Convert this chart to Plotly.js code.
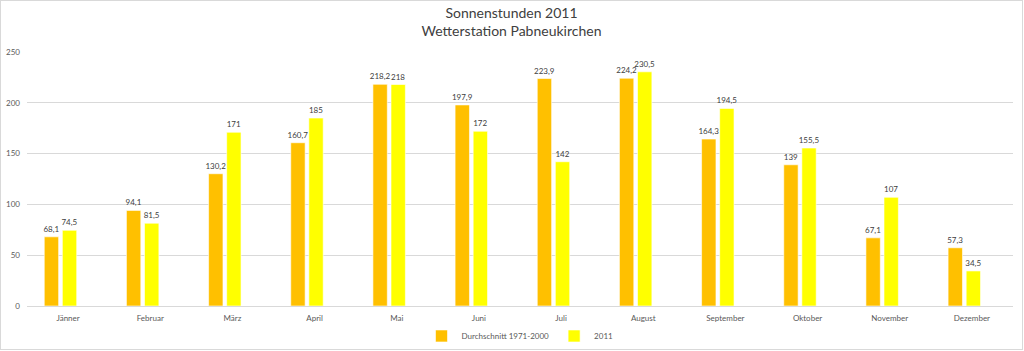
<!DOCTYPE html>
<html>
<head>
<meta charset="utf-8">
<script src="https://cdn.plot.ly/plotly-3.0.1.min.js"></script>
<style>
html,body{margin:0;padding:0;background:#fff;}
#chart{width:1021px;height:348px;border:1px solid #d9d9d9;}
</style>
</head>
<body>
<div id="chart"></div>
<script>
const months = ["Jänner","Februar","März","April","Mai","Juni","Juli","August","September","Oktober","November","Dezember"];
const durchschnitt = [68.1,94.1,130.2,160.7,218.2,197.9,223.9,224.2,164.3,139,67.1,57.3];
const jahr2011 = [74.5,81.5,171,185,218,172,142,230.5,194.5,155.5,107,34.5];
const seriesNames = ["Durchschnitt 1971-2000","2011"];
const yTicks = [0,50,100,150,200,250];

const fmt = v => String(v).replace('.', ',');
const font = "Lato, 'Open Sans', 'DejaVu Sans', sans-serif";

const traces = [
  {type:'bar', x:months, y:durchschnitt, name:seriesNames[0],
   marker:{color:'#FFC000', line:{color:'#ffffff', width:0.6}},
   width:0.175, offset:-0.29,
   text:durchschnitt.map(fmt), textposition:'outside', cliponaxis:false, constraintext:'none',
   textfont:{size:8, color:'#404040', family:font}, hoverinfo:'x+y'},
  {type:'bar', x:months, y:jahr2011, name:seriesNames[1],
   marker:{color:'#FFFF00', line:{color:'#ffffff', width:0.6}},
   width:0.175, offset:-0.07,
   text:jahr2011.map(fmt), textposition:'outside', cliponaxis:false, constraintext:'none',
   textfont:{size:8, color:'#404040', family:font}, hoverinfo:'x+y'}
];

const layout = {
  width:1021, height:348,
  margin:{l:26, r:9, t:51, b:43, autoexpand:false},
  paper_bgcolor:'#ffffff', plot_bgcolor:'#ffffff',
  font:{family:font, color:'#595959', size:8},
  title:{text:'Sonnenstunden 2011<br>Wetterstation Pabneukirchen', x:0.5, xanchor:'center', y:0.951, yanchor:'top',
         font:{size:14, color:'#404040', family:font}},
  barmode:'overlay',
  uniformtext:{minsize:8, mode:'show'},
  xaxis:{type:'category', showgrid:false, zeroline:false, showline:false, ticks:'', ticklabelstandoff:6,
         tickfont:{size:8, color:'#595959'}, fixedrange:true},
  yaxis:{range:[0,250], tickvals:yTicks, ticktext:yTicks.map(String), showgrid:true, gridcolor:'#d9d9d9', gridwidth:1,
         zeroline:true, zerolinecolor:'#d9d9d9', zerolinewidth:1, showline:false, ticks:'', ticklabelstandoff:6,
         tickfont:{size:8, color:'#595959'}, fixedrange:true},
  showlegend:true,
  legend:{orientation:'h', x:0.5, xanchor:'center', y:-0.118, yanchor:'middle',
          font:{size:8, color:'#595959'}, itemwidth:30, traceorder:'normal'},
  separators:',.'
};

Plotly.newPlot('chart', traces, layout, {displayModeBar:false, staticPlot:true});
</script>
</body>
</html>
